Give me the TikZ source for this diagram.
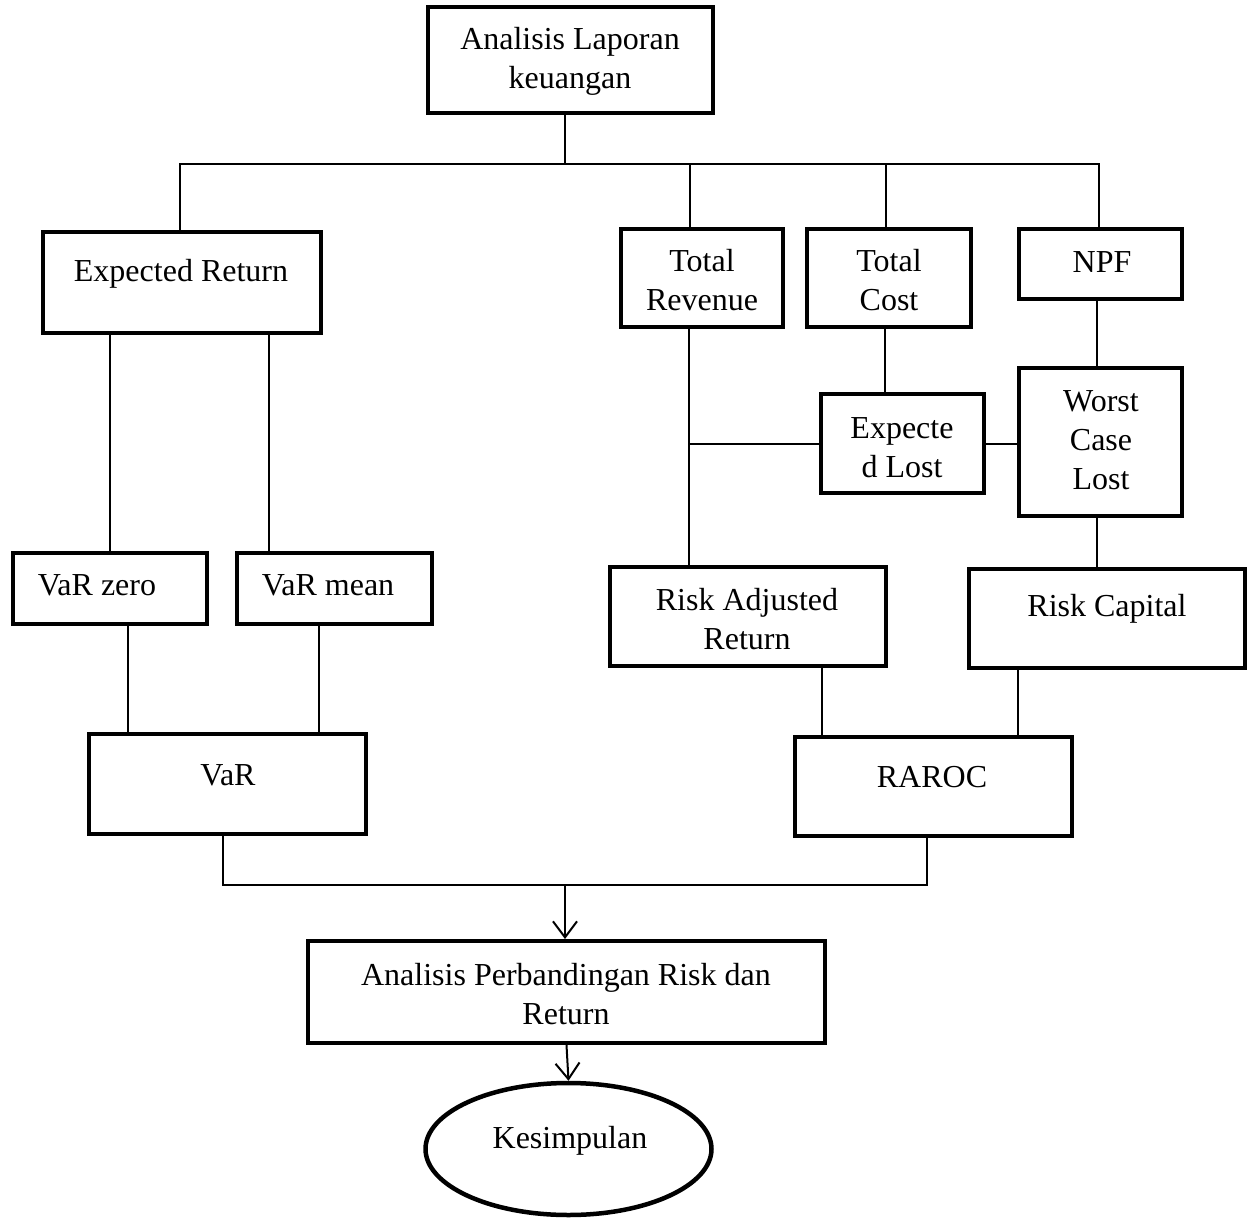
\documentclass[tikz,border=0pt]{standalone}
\usepackage{fontspec}
\setmainfont{Liberation Serif}
\usetikzlibrary{arrows.meta,shapes.geometric,calc}
\tikzset{
  box/.style={draw, rectangle, line width=4pt, inner sep=0pt},
  oval/.style={draw, ellipse, line width=4.5pt, inner sep=0pt},
  conn/.style={line width=1.6pt},
  arr/.style={line width=2pt, -{Straight Barb[length=16pt,width=24pt,line width=2pt]}},
  txt/.style={align=center, inner sep=0pt, font=\fontsize{32}{39}\selectfont}
}
\begin{document}
\begin{tikzpicture}[x=1pt,y=-1pt]
\useasboundingbox (0,0) rectangle (1254,1218);
% boxes
\node[box, minimum width=285pt, minimum height=106pt] (alr) at (570.5,60) {};
\node[box, minimum width=278pt, minimum height=101pt] (er) at (182,282.5) {};
\node[box, minimum width=162pt, minimum height=98pt] (tr) at (702,278) {};
\node[box, minimum width=164pt, minimum height=98pt] (tc) at (889,278) {};
\node[box, minimum width=163pt, minimum height=70pt] (npf) at (1100.5,264) {};
\node[box, minimum width=163pt, minimum height=99pt] (el) at (902.5,443.5) {};
\node[box, minimum width=163pt, minimum height=148pt] (wcl) at (1100.5,442) {};
\node[box, minimum width=194pt, minimum height=71pt] (vz) at (110,588.5) {};
\node[box, minimum width=195pt, minimum height=71pt] (vm) at (334.5,588.5) {};
\node[box, minimum width=276pt, minimum height=99pt] (rar) at (748,616.5) {};
\node[box, minimum width=276pt, minimum height=99pt] (rc) at (1107,618.5) {};
\node[box, minimum width=277pt, minimum height=100pt] (var) at (227.5,784) {};
\node[box, minimum width=277pt, minimum height=99pt] (raroc) at (933.5,786.5) {};
\node[box, minimum width=517pt, minimum height=102pt] (apr) at (566.5,992) {};
\node[oval, minimum width=286pt, minimum height=132pt] (kes) at (568.5,1149) {};
% texts
\node[txt] (talr) at (570,61) {Analisis Laporan\\keuangan};
\node[txt] (ter) at (181,274) {Expected Return};
\node[txt] (ttr) at (702,280) {Total\\Revenue};
\node[txt] (ttc) at (889,280) {Total\\Cost};
\node[txt] (tnpf) at (1102,262) {NPF};
\node[txt] (tel) at (902,448) {Expecte\\d Lost};
\node[txt] (twcl) at (1101,440) {Worst\\Case\\Lost};
\node[txt] (tvz) at (97,585) {VaR zero};
\node[txt] (tvm) at (328,585) {VaR mean};
\node[txt] (trar) at (747,619) {Risk Adjusted\\Return};
\node[txt] (trc) at (1107,609) {Risk Capital};
\node[txt] (tvar) at (228,775) {VaR};
\node[txt] (traroc) at (932,777) {RAROC};
\node[txt] (tapr) at (566,994) {Analisis Perbandingan Risk dan\\Return};
\node[txt] (tkes) at (570,1141) {Kesimpulan};
% junction coordinates
\coordinate (bus) at (565,164);
\coordinate (bER) at (180,164);
\coordinate (bTR) at (690,164);
\coordinate (bTC) at (886,164);
\coordinate (bNPF) at (1099,164);
\coordinate (x1) at (110,0);
\coordinate (x2) at (269,0);
\coordinate (x3) at (128,0);
\coordinate (x4) at (319,0);
\coordinate (jR) at (689,444);
\coordinate (xTC) at (885,0);
\coordinate (xW) at (1097,0);
\coordinate (xA) at (822,0);
\coordinate (xB) at (1018,0);
\coordinate (bot) at (565,885);
\coordinate (xV) at (223,0);
\coordinate (xR) at (927,0);
% connectors
\draw[conn] (alr.south -| bus) -- (bus);
\draw[conn] (bER |- er.north) -- (bER) -- (bNPF) -- (bNPF |- npf.north);
\draw[conn] (bTR) -- (bTR |- tr.north);
\draw[conn] (bTC) -- (bTC |- tc.north);
\draw[conn] (x1 |- er.south) -- (x1 |- vz.north);
\draw[conn] (x2 |- er.south) -- (x2 |- vm.north);
\draw[conn] (x3 |- vz.south) -- (x3 |- var.north);
\draw[conn] (x4 |- vm.south) -- (x4 |- var.north);
\draw[conn] (jR |- tr.south) -- (jR |- rar.north);
\draw[conn] (jR) -- (el.west |- jR);
\draw[conn] (xTC |- tc.south) -- (xTC |- el.north);
\draw[conn] (el.east |- jR) -- (wcl.west |- jR);
\draw[conn] (xW |- npf.south) -- (xW |- wcl.north);
\draw[conn] (xW |- wcl.south) -- (xW |- rc.north);
\draw[conn] (xA |- rar.south) -- (xA |- raroc.north);
\draw[conn] (xB |- rc.south) -- (xB |- raroc.north);
\draw[conn] (xV |- var.south) |- (bot) -| (xR |- raroc.south);
\draw[arr] (bot) -- (bot |- apr.north);
\draw[arr] (apr.south) -- (kes.north);
\end{tikzpicture}
\end{document}
